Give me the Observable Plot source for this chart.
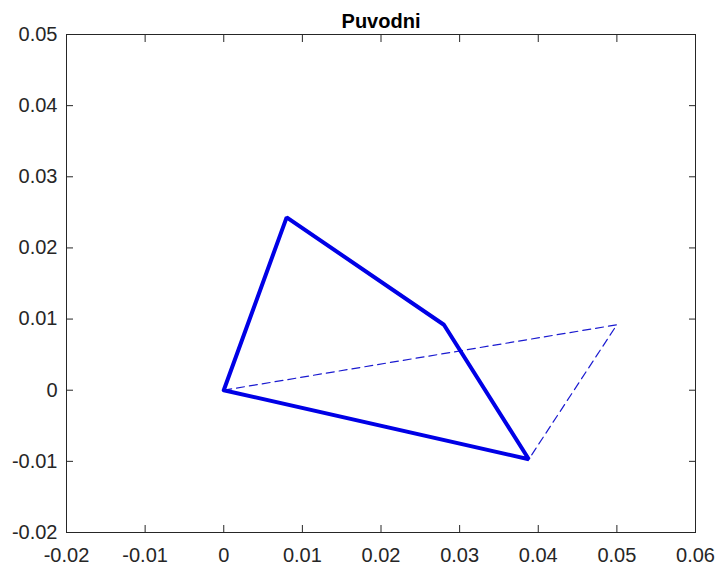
<!DOCTYPE html>
<html>
<head>
<meta charset="utf-8">
<script src="https://cdn.jsdelivr.net/npm/d3@7"></script>
<script src="https://cdn.jsdelivr.net/npm/@observablehq/plot@0.6"></script>
<style>
  html, body { margin: 0; padding: 0; background: #fff; }
  #chart svg { display: block; }
</style>
</head>
<body>
<div id="chart"></div>
<script>
// Data
const title = "Puvodni";
const solidX = [0, 0.008, 0.028, 0.0388, 0];
const solidY = [0, 0.0243, 0.0092, -0.0097, 0];
const dashedX = [0, 0.05, 0.0388];
const dashedY = [0, 0.0092, -0.0097];
const xTicks = [-0.02, -0.01, 0, 0.01, 0.02, 0.03, 0.04, 0.05, 0.06];
const yTicks = [-0.02, -0.01, 0, 0.01, 0.02, 0.03, 0.04, 0.05];

const solid = solidX.map((x, i) => ({x, y: solidY[i]}));
const dashed = dashedX.map((x, i) => ({x, y: dashedY[i]}));
const fmt = d => (Math.abs(d) < 1e-12 ? "0" : String(+d.toFixed(2)));
const axisColor = "#262626";
const font = "'Liberation Sans', Arial, Helvetica, sans-serif";

const chart = Plot.plot({
  width: 718,
  height: 567,
  marginLeft: 66,
  marginRight: 23,
  marginTop: 34,
  marginBottom: 35,
  style: {fontFamily: font, fontSize: "20px", color: axisColor, background: "#fff"},
  x: {domain: [-0.02, 0.06]},
  y: {domain: [-0.02, 0.05]},
  marks: [
    Plot.line(dashed, {x: "x", y: "y", stroke: "#1a1ad0", strokeWidth: 1.2, strokeDasharray: "8,5"}),
    Plot.line(solid, {x: "x", y: "y", stroke: "#0000e6", strokeWidth: 4, strokeLinejoin: "miter"}),
    Plot.frame({stroke: axisColor, strokeWidth: 1}),
    // labels
    Plot.axisX(xTicks, {anchor: "bottom", tickSize: 0, tickPadding: 15, tickFormat: fmt, label: null, fill: axisColor, fontSize: 20}),
    Plot.axisY(yTicks, {anchor: "left", tickSize: 0, tickPadding: 9, tickFormat: fmt, label: null, fill: axisColor, fontSize: 20}),
    // inward ticks on all four sides
    Plot.axisX(xTicks, {anchor: "bottom", tickSize: -7, tickFormat: () => "", label: null, stroke: axisColor}),
    Plot.axisX(xTicks, {anchor: "top", tickSize: -7, tickFormat: () => "", label: null, stroke: axisColor}),
    Plot.axisY(yTicks, {anchor: "left", tickSize: -7, tickFormat: () => "", label: null, stroke: axisColor}),
    Plot.axisY(yTicks, {anchor: "right", tickSize: -7, tickFormat: () => "", label: null, stroke: axisColor}),
    Plot.text([title], {frameAnchor: "top", dy: -7, fontWeight: "bold", fontSize: 20, fill: "#000", lineAnchor: "bottom"})
  ]
});
document.getElementById("chart").appendChild(chart);
</script>
</body>
</html>
